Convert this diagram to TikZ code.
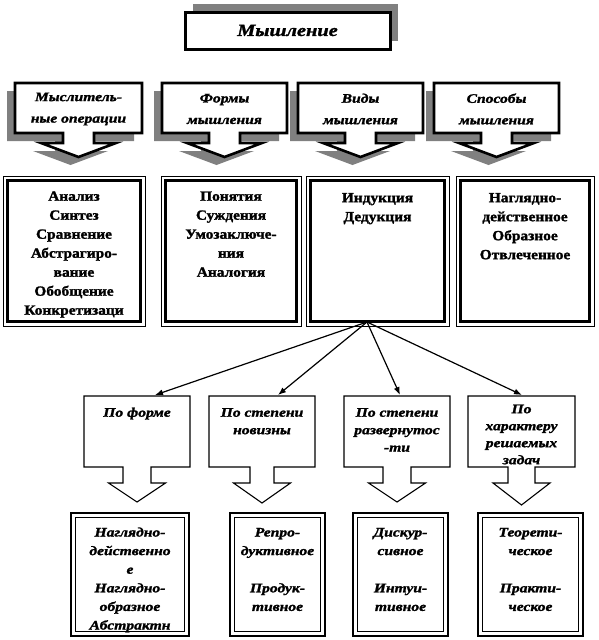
\documentclass[tikz,border=0pt]{standalone}
\usepackage{fontspec}
\setmainfont{Liberation Serif}
\newfontfamily\rmb[FakeStretch=1.1,FakeBold=1.6]{Liberation Serif}
\newfontfamily\itb[FakeStretch=1.2,FakeBold=1.6]{Liberation Serif}
\usetikzlibrary{arrows.meta}
\newcommand\callpath[9]{%
  \path[#1] (#2,#3) -- (#4,#3) -- (#4,#5) -- ({(#2+#4)/2+#6},#5) -- ({(#2+#4)/2+#6},{#5+#8})
   -- ({(#2+#4)/2+#7},{#5+#8}) -- ({(#2+#4)/2},{#5+#8+#9}) -- ({(#2+#4)/2-#7},{#5+#8})
   -- ({(#2+#4)/2-#6},{#5+#8}) -- ({(#2+#4)/2-#6},#5) -- (#2,#5) -- cycle;}
\newcommand\fl{\rule{0pt}{11pt}}
\tikzset{
  shadowfill/.style={fill=gray, draw=none},
  topshape/.style={draw=black, line width=2.6pt, fill=white, line join=miter},
  midshape/.style={draw=black, line width=1.1pt, fill=white, line join=miter},
  thinframe/.style={draw=black, line width=1pt},
  thickframe/.style={draw=black, line width=3.2pt},
  titletext/.style={font=\itb\bfseries\itshape\fontsize{17}{20}\selectfont, inner sep=0pt},
  toptext/.style={font=\itb\bfseries\itshape\fontsize{13}{21.5}\selectfont, align=center, inner sep=0pt},
  bigtext/.style={font=\rmb\bfseries\fontsize{14}{19}\selectfont, align=center, inner sep=0pt, anchor=north},
  midtext/.style={font=\itb\bfseries\itshape\fontsize{13}{17.5}\selectfont, align=center, inner sep=0pt, anchor=north},
  lowtext/.style={font=\itb\bfseries\itshape\fontsize{13}{18.6}\selectfont, align=center, inner sep=0pt, anchor=north},
  link/.style={draw=black, line width=1.2pt, -{Latex[length=8pt,width=6pt]}}
}
\begin{document}
\begin{tikzpicture}[x=1pt,y=-1pt]
\useasboundingbox[fill=white] (0,0) rectangle (598,640);
% title
\fill[gray] (193,4) rectangle (398,41);
\draw[fill=white, line width=3pt] (185,12) rectangle (390,49);
\node[titletext] (title) at (287.5,30.5) {Мышление};
% top callouts
\callpath{shadowfill, shift={(-8,8)}}{15}{83}{142}{133}{15.5}{37.5}{10}{14}
\callpath{shadowfill, shift={(-8,8)}}{162}{83}{287}{133}{15.5}{37.5}{10}{14}
\callpath{shadowfill, shift={(-8,8)}}{298}{83}{423}{133}{15.5}{37.5}{10}{14}
\callpath{shadowfill, shift={(-8,8)}}{434}{83}{559}{133}{15.5}{37.5}{10}{14}
\callpath{topshape}{15}{83}{142}{133}{15.5}{37.5}{10}{14}
\callpath{topshape}{162}{83}{287}{133}{15.5}{37.5}{10}{14}
\callpath{topshape}{298}{83}{423}{133}{15.5}{37.5}{10}{14}
\callpath{topshape}{434}{83}{559}{133}{15.5}{37.5}{10}{14}
\node[toptext] (t1) at (78.5,109) {Мыслитель-\\ные операции};
\node[toptext] (t2) at (224.5,109) {Формы\\мышления};
\node[toptext] (t3) at (360.5,109) {Виды\\мышления};
\node[toptext] (t4) at (496.5,109) {Способы\\мышления};
% big boxes
\draw[thinframe] (3,176) rectangle (145,326);
\draw[thickframe] (7.5,180.5) rectangle (140.5,321.5);
\draw[thinframe] (161,176) rectangle (301,326);
\draw[thickframe] (165.5,180.5) rectangle (296.5,321.5);
\draw[thinframe] (306,176) rectangle (449,326);
\draw[thickframe] (310.5,180.5) rectangle (444.5,321.5);
\draw[thinframe] (456,176) rectangle (594,326);
\draw[thickframe] (460.5,180.5) rectangle (589.5,321.5);
\node[bigtext] (b1) at (74,189.5) {\fl Анализ\\Синтез\\Сравнение\\Абстрагиро-\\вание\\Обобщение\\Конкретизаци};
\node[bigtext] (b2) at (231,189.5) {\fl Понятия\\Суждения\\Умозаключе-\\ния\\Аналогия};
\node[bigtext] (b3) at (377.5,191) {\fl Индукция\\Дедукция};
\node[bigtext] (b4) at (525,191) {\fl Наглядно-\\действенное\\Образное\\Отвлеченное};
\coordinate (src) at (367,322);
% middle callouts
\callpath{midshape}{84}{396}{190}{467}{14}{28.5}{16}{19}
\callpath{midshape}{209}{396}{315}{467}{12}{28.5}{16}{20}
\callpath{midshape}{344}{396}{450}{467}{14}{28.5}{16}{19}
\callpath{midshape}{468}{396}{575}{467}{13.5}{28.5}{16}{22}
\node[midtext] (m1) at (137,405.5) {\fl По форме};
\node[midtext] (m2) at (262,405.5) {\fl По степени\\новизны};
\node[midtext] (m3) at (397,405.5) {\fl По степени\\развернутос\\-ти};
\node[midtext, font=\itb\bfseries\itshape\fontsize{13}{17}\selectfont] (m4) at (521.5,402) {\fl По\\характеру\\решаемых\\задач};
\coordinate (e1) at (155,395);
\coordinate (e2) at (278,395);
\coordinate (e3) at (400,395);
\coordinate (e4) at (522,395);
\draw[link] (src) -- (e1);
\draw[link] (src) -- (e2);
\draw[link] (src) -- (e3);
\draw[link] (src) -- (e4);
% bottom boxes
\draw[line width=2.8pt] (71,513) rectangle (189,636);
\draw[line width=0.9pt] (75.5,517.5) rectangle (184.5,631.5);
\draw[line width=2.8pt] (230,513) rectangle (325,636);
\draw[line width=0.9pt] (234.5,517.5) rectangle (320.5,631.5);
\draw[line width=2.8pt] (353,513) rectangle (448,636);
\draw[line width=0.9pt] (357.5,517.5) rectangle (443.5,631.5);
\draw[line width=2.8pt] (478,513) rectangle (583,636);
\draw[line width=0.9pt] (482.5,517.5) rectangle (578.5,631.5);
\node[lowtext] (d1) at (130,525.3) {\fl Наглядно-\\действенно\\е\\Наглядно-\\образное\\Абстрактн};
\node[lowtext] (d2) at (277.5,525.3) {\fl Репро-\\дуктивное\\[18.6pt]Продук-\\тивное};
\node[lowtext] (d3) at (400.5,525.3) {\fl Дискур-\\сивное\\[18.6pt]Интуи-\\тивное};
\node[lowtext] (d4) at (530.5,525.3) {\fl Теорети-\\ческое\\[18.6pt]Практи-\\ческое};
\end{tikzpicture}
\end{document}
